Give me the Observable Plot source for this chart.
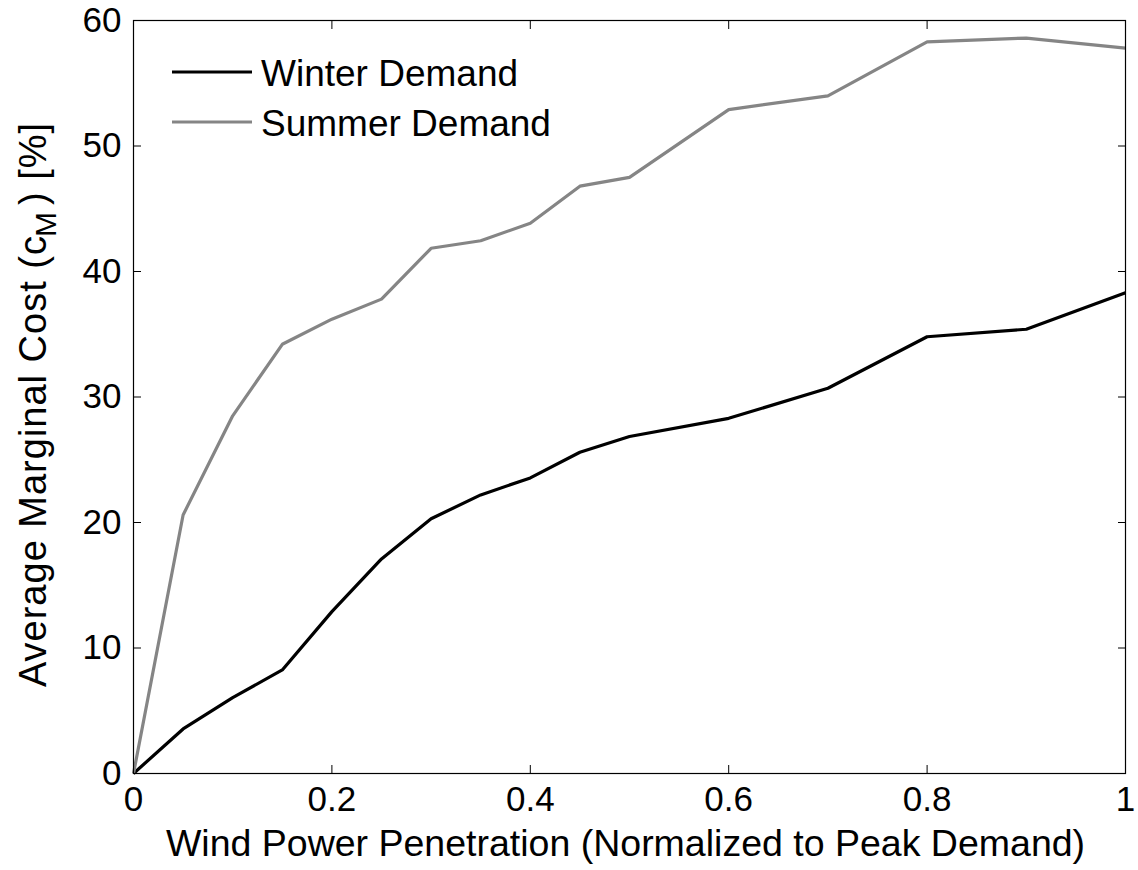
<!DOCTYPE html>
<html>
<head>
<meta charset="utf-8">
<script src="https://cdn.jsdelivr.net/npm/d3@7"></script>
<script src="https://cdn.jsdelivr.net/npm/@observablehq/plot@0.6"></script>
<style>
  html, body { margin: 0; padding: 0; background: #fff; }
  #chart { position: relative; width: 1138px; height: 870px; }
</style>
</head>
<body>
<div id="chart"></div>
<script>
// ---- data ----
const penetration = [0, 0.05, 0.1, 0.15, 0.2, 0.25, 0.3, 0.35, 0.4, 0.45, 0.5, 0.6, 0.7, 0.8, 0.9, 1.0];
const winterDemand = [0, 3.55, 6.05, 8.25, 12.9, 17.1, 20.3, 22.2, 23.55, 25.6, 26.85, 28.3, 30.7, 34.8, 35.4, 38.3];
const summerDemand = [0, 20.6, 28.5, 34.2, 36.2, 37.8, 41.85, 42.45, 43.85, 46.8, 47.5, 52.9, 54.0, 58.3, 58.6, 57.8];
const seriesNames = ["Winter Demand", "Summer Demand"];
const seriesColors = ["#000000", "#858585"];
const xTicks = [0, 0.2, 0.4, 0.6, 0.8, 1];
const xTickLabels = ["0", "0.2", "0.4", "0.6", "0.8", "1"];
const yTicks = [0, 10, 20, 30, 40, 50, 60];
const xLabel = "Wind Power Penetration (Normalized to Peak Demand)";
const yLabelMain = "Average Marginal Cost (c";
const yLabelSub = "M";
const yLabelEnd = ") [%]";

const rows = [];
penetration.forEach((p, i) => {
  rows.push({x: p, y: winterDemand[i], s: seriesNames[0]});
});
penetration.forEach((p, i) => {
  rows.push({x: p, y: summerDemand[i], s: seriesNames[1]});
});

const FONT = "'Liberation Sans', Arial, Helvetica, sans-serif";
const W = 1138, H = 870;
const mL = 133, mT = 20, mR = 13, mB = 97;

const plot = Plot.plot({
  width: W,
  height: H,
  marginLeft: mL,
  marginTop: mT,
  marginRight: mR,
  marginBottom: mB,
  style: {fontFamily: FONT, fontSize: "35px", color: "#000", background: "#fff", overflow: "visible"},
  x: {domain: [0, 1]},
  y: {domain: [0, 60]},
  color: {domain: seriesNames, range: seriesColors},
  marks: [
    Plot.axisX({ticks: xTicks, tickSize: -8, tickPadding: 21, tickFormat: (d, i) => xTickLabels[i], label: null, fontSize: 35, stroke: "#000"}),
    Plot.axisX({anchor: "top", ticks: xTicks, tickSize: -8, tickFormat: () => "", label: null, stroke: "#000"}),
    Plot.axisY({ticks: yTicks, tickSize: -8, tickPadding: 20, label: null, fontSize: 35, stroke: "#000"}),
    Plot.axisY({anchor: "right", ticks: yTicks, tickSize: -8, tickFormat: () => "", label: null, stroke: "#000"}),
    Plot.line(rows, {x: "x", y: "y", z: "s", stroke: "s", strokeWidth: 3.2, strokeLinejoin: "miter", strokeLinecap: "butt"}),
    Plot.frame({stroke: "#000", strokeWidth: 1.2}),
    Plot.text([xLabel], {frameAnchor: "bottom", dy: 82, dx: -4, text: d => d, fontSize: 37.5, lineAnchor: "bottom", fill: "#000"})
  ]
});

document.getElementById("chart").appendChild(plot);

// y-axis label with subscript
const svg = d3.select(plot);
const yl = svg.append("text")
  .attr("transform", `translate(46, ${(mT + H - mB) / 2 + 8}) rotate(-90)`)
  .attr("text-anchor", "middle")
  .attr("font-family", FONT)
  .attr("font-size", 38)
  .attr("letter-spacing", "1px")
  .attr("fill", "#000");
yl.append("tspan").text(yLabelMain);
yl.append("tspan").attr("font-size", 30).attr("dy", 10).attr("dx", -2).text(yLabelSub);
yl.append("tspan").attr("dy", -10).attr("dx", 6).text(yLabelEnd);

// legend (inside the plot, top-left)
const lg = svg.append("g").attr("font-family", FONT).attr("font-size", 37).attr("text-anchor", "start");
seriesNames.forEach((name, i) => {
  const cy = 72 + i * 50;
  lg.append("line").attr("x1", 172).attr("x2", 252).attr("y1", cy).attr("y2", cy)
    .attr("stroke", seriesColors[i]).attr("stroke-width", 3.2);
  lg.append("text").attr("x", 261).attr("y", cy).attr("dy", "0.37em").attr("text-anchor", "start").attr("fill", "#000").text(name);
});
</script>
</body>
</html>
